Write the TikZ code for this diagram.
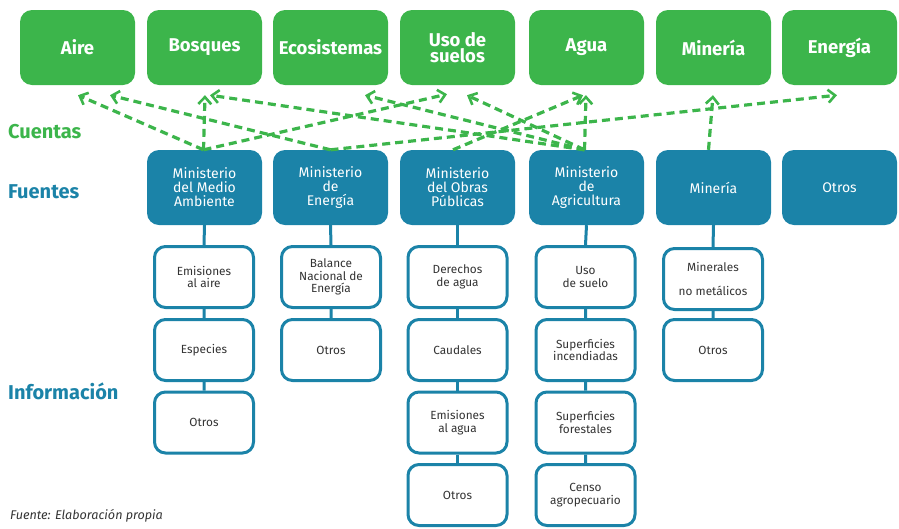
\documentclass[tikz,border=0pt]{standalone}
\usepackage{fontspec}
\setmainfont{Fira Sans}
\usetikzlibrary{arrows.meta,calc}
\definecolor{cuentagreen}{HTML}{3CB54B}
\definecolor{fuenteteal}{HTML}{1B83A8}
\definecolor{infotext}{HTML}{333333}
\tikzset{
  cuenta/.style={fill=cuentagreen, rounded corners=12pt, minimum width=115pt, minimum height=75pt,
    text=white, font=\bfseries\fontsize{18.5}{16.5}\selectfont, align=center, inner sep=0pt},
  fuente/.style={fill=fuenteteal, rounded corners=12pt, minimum width=115pt, minimum height=75pt,
    text=white, font=\fontsize{14}{14}\selectfont, align=center, inner sep=0pt},
  info/.style={draw=fuenteteal, line width=3pt, fill=white, rounded corners=11pt,
    minimum width=99pt, minimum height=61pt, text=infotext,
    font=\fontsize{11.8}{12.5}\selectfont, align=center, inner sep=0pt},
  enlace/.style={draw=cuentagreen, line width=3.2pt, dash pattern=on 8pt off 5pt,
    -{Straight Barb[length=7pt,width=13pt,line width=2.6pt]}},
  rama/.style={draw=fuenteteal, line width=3pt},
  etiqueta/.style={font=\bfseries\fontsize{20}{22}\selectfont, anchor=west, inner sep=0pt},
}
\begin{document}
\begin{tikzpicture}[x=1pt,y=-1pt]
\useasboundingbox (0,0) rectangle (899,528);

% Cuentas
\node[cuenta] (aire) at (77.5,47.5) {Aire};
\node[cuenta] (bosques) at (204.5,47.5) {Bosques};
\node[cuenta] (ecosis) at (330.5,47.5) {Ecosistemas};
\node[cuenta] (uso) at (457.5,47.5) {Uso de\\suelos};
\node[cuenta] (agua) at (586.5,47.5) {Agua};
\node[cuenta] (mineria) at (713.5,47.5) {Minería};
\node[cuenta] (energia) at (839.5,47.5) {Energía};

% Fuentes
\node[fuente] (mma) at (204.5,187.5) {Ministerio\\del Medio\\Ambiente};
\node[fuente] (men) at (330.5,187.5) {Ministerio\\de\\Energía};
\node[fuente] (mop) at (457.5,187.5) {Ministerio\\del Obras\\Públicas};
\node[fuente] (mag) at (586.5,187.5) {Ministerio\\de\\Agricultura};
\node[fuente] (fmin) at (713.5,187.5) {Minería};
\node[fuente] (fotros) at (839.5,187.5) {Otros};

% Información
\node[info] (ma1) at (204,277) {Emisiones\\al aire};
\node[info] (ma2) at (204,350) {Especies};
\node[info] (ma3) at (204,422.5) {Otros};

\node[info] (en1) at (331,277) {Balance\\Nacional de\\Energía};
\node[info] (en2) at (331,350) {Otros};

\node[info] (op1) at (457.5,277) {Derechos\\de agua};
\node[info] (op2) at (457.5,350) {Caudales};
\node[info] (op3) at (457.5,422.5) {Emisiones\\al agua};
\node[info] (op4) at (457.5,495) {Otros};

\node[info] (ag1) at (585.5,277) {Uso\\de suelo};
\node[info] (ag2) at (585.5,350) {Superficies\\incendiadas};
\node[info] (ag3) at (585.5,422.5) {Superficies\\forestales};
\node[info] (ag4) at (585.5,495) {Censo\\agropecuario};

\node[info] (mi1) at (713,279) {Minerales\\[11pt]no metálicos};
\node[info] (mi2) at (713,350) {Otros};

% ramas
\draw[rama] (mma.south) -- (ma1.north) (ma1.south) -- (ma2.north) (ma2.south) -- (ma3.north);
\draw[rama] (men.south) -- (en1.north) (en1.south) -- (en2.north);
\draw[rama] (mop.south) -- (op1.north) (op1.south) -- (op2.north) (op2.south) -- (op3.north) (op3.south) -- (op4.north);
\draw[rama] (mag.south) -- (ag1.north) (ag1.south) -- (ag2.north) (ag2.south) -- (ag3.north) (ag3.south) -- (ag4.north);
\draw[rama] (fmin.south) -- (mi1.north) (mi1.south) -- (mi2.north);

% enlaces fuente -> cuenta
\draw[enlace] ($(mma.north)+(-1,0)$) -- ($(aire.south)+(0.5,10)$);
\draw[enlace] (men.north) -- ($(aire.south)+(32.5,10)$);
\draw[enlace] ($(mma.north)+(-1,0)$) -- ($(bosques.south)+(0.5,10)$);
\draw[enlace] ($(mag.north)+(-2,0)$) -- ($(bosques.south)+(5.5,10)$);
\draw[enlace] ($(mag.north)+(-2,0)$) -- ($(ecosis.south)+(34.5,10)$);
\draw[enlace] ($(mma.north)+(-1,0)$) -- ($(uso.south)+(-10.5,9)$);
\draw[enlace] ($(mag.north)+(-2,0)$) -- ($(uso.south)+(9.5,10)$);
\draw[enlace] ($(mop.north)+(-4.5,0)$) -- ($(agua.south)+(-3.5,10)$);
\draw[enlace] ($(mag.north)+(-2,0)$) -- ($(agua.south)+(-0.5,10)$);
\draw[enlace] ($(fmin.north)+(-5,0)$) -- ($(mineria.south)+(-0.5,10)$);
\draw[enlace] (men.north) -- ($(energia.south)+(-2.5,10)$);

% etiquetas de nivel
\node[etiqueta, text=cuentagreen] (lcuentas) at (8,132) {Cuentas};
\node[etiqueta, text=fuenteteal] (lfuentes) at (8,192) {Fuentes};
\node[etiqueta, text=fuenteteal] (linfo) at (8,391) {Información};
\node[anchor=west, inner sep=0pt, text=infotext, font=\itshape\fontsize{12.6}{14}\selectfont] (fuente) at (10,516) {Fuente: Elaboración propia};
\end{tikzpicture}
\end{document}
